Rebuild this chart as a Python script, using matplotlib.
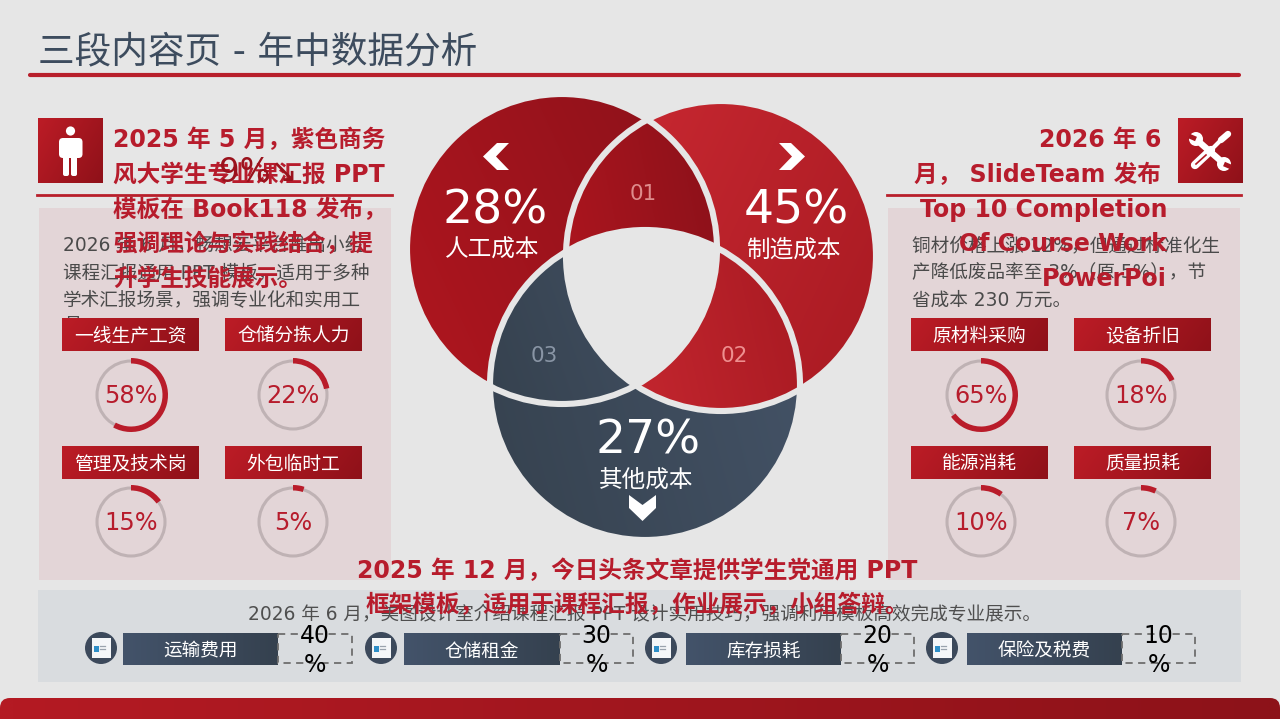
import numpy as np
import matplotlib
matplotlib.use("Agg")
import matplotlib.pyplot as plt
from matplotlib.colors import to_rgb
from matplotlib.patches import Circle, Rectangle, Wedge, Polygon, FancyBboxPatch

plt.rcParams['font.family'] = ['DejaVu Sans', 'Noto Sans CJK SC']

# Slide text (full-width punctuation written as escapes)
title = "三段内容页 - 年中数据分析"
left_heading = ["2025 年 5 月\uff0c紫色商务", "风大学生专业课汇报 PPT", "模板在 Book118 发布\uff0c", "强调理论与实践结合\uff0c提", "升学生技能展示\u3002"]
right_heading = ["2026 年 6", "月\uff0c SlideTeam 发布", "Top 10 Completion", "Of Course Work", "PowerPoi"]
bottom_heading = ["2025 年 12 月\uff0c今日头条文章提供学生党通用 PPT", "框架模板\uff0c适用于课程汇报\uff0c作业展示\uff0c小组答辩\u3002"]
left_body = ["2026 年 6 月\uff0c畅想云平台推出小组", "课程汇报通用 PPT 模板\uff0c适用于多种", "学术汇报场景\uff0c强调专业化和实用工", "具\u3002"]
right_body = ["铜材价格上涨 12%\uff0c但通过标准化生", "产降低废品率至 3%\uff08原 5%\uff09\uff0c节", "省成本 230 万元\u3002"]
bottom_body = "2026 年 6 月\uff0c美图设计室介绍课程汇报 PPT 设计实用技巧\uff0c强调利用模板高效完成专业展示\u3002"
left_delta = "9%↘"

# Venn values
venn_names = ["人工成本", "制造成本", "其他成本"]
venn_values = [28, 45, 27]
lens_names = ["01", "02", "03"]

# Gauges
left_gauge_names = ["一线生产工资", "仓储分拣人力", "管理及技术岗", "外包临时工"]
left_gauge_values = [58, 22, 15, 5]
right_gauge_names = ["原材料采购", "设备折旧", "能源消耗", "质量损耗"]
right_gauge_values = [65, 18, 10, 7]

# Bottom row
other_names = ["运输费用", "仓储租金", "库存损耗", "保险及税费"]
other_values = [40, 30, 20, 10]

BG = "#E6E6E6"
RED = "#B71C2C"
DARK_RED = "#8B111A"
MID_RED = "#B0161F"
LIGHT_RED = "#CC2A33"
NAVY_L = "#36424F"
NAVY_R = "#445367"

fig = plt.figure(figsize=(12.8, 7.19), dpi=100, facecolor=BG)
ax = fig.add_axes([0, 0, 1, 1])
ax.set_xlim(0, 1280)
ax.set_ylim(719, 0)
ax.axis("off")


# Draws a linear gradient over a box and clips it to patch (or the box itself)
def gradient(x0, y0, x1, y1, c0, c1, angle=0, clip=None, zorder=1):
    yy, xx = np.mgrid[0:1:48j, 0:1:48j]
    a = np.radians(angle)
    t = xx * np.cos(a) + yy * np.sin(a)
    t = (t - t.min()) / (t.max() - t.min())
    c0, c1 = np.array(to_rgb(c0)), np.array(to_rgb(c1))
    img = c0[None, None, :] + t[:, :, None] * (c1 - c0)[None, None, :]
    im = ax.imshow(img, extent=(x0, x1, y1, y0), aspect="auto", interpolation="bilinear", zorder=zorder)
    if clip is None:
        clip = Rectangle((x0, y0), x1 - x0, y1 - y0, transform=ax.transData)
    else:
        clip.set_transform(ax.transData)
    im.set_clip_path(clip)
    return im


# Polygon of the part common to several circles (always convex)
def common_region(circles):
    pts = []
    th = np.linspace(0, 2 * np.pi, 1440, endpoint=False)
    for i, (cx, cy, r) in enumerate(circles):
        p = np.column_stack([cx + r * np.cos(th), cy + r * np.sin(th)])
        for j, (ox, oy, orad) in enumerate(circles):
            if i != j:
                p = p[np.hypot(p[:, 0] - ox, p[:, 1] - oy) <= orad]
        pts.append(p)
    pts = np.vstack(pts)
    mid = pts.mean(axis=0)
    order = np.argsort(np.arctan2(pts[:, 1] - mid[1], pts[:, 0] - mid[0]))
    return pts[order]


# Title bar
ax.text(38, 52, title, fontsize=26.4, color="#3D4C5E", ha="left", va="center", zorder=5)
ax.plot([30, 1239], [75, 75], color="#B81F2B", lw=3, solid_capstyle="round", zorder=2)

# Panels
for x0, x1 in [(39, 391), (888, 1240)]:
    ax.add_patch(Rectangle((x0, 208), x1 - x0, 372, fc="#E3D5D7", ec="none", zorder=1))
ax.add_patch(Rectangle((38, 590), 1203, 92, fc="#D9DCDF", ec="none", zorder=1))

# Icon squares and lines under them
gradient(38, 118, 103, 183, "#BC1C26", "#8F1119", angle=30, zorder=2)
gradient(1178, 118, 1243, 183, "#BC1C26", "#8F1119", angle=30, zorder=2)
ax.plot([37, 392], [195, 195], color="#B81F2B", lw=2, zorder=2)
ax.plot([887, 1241], [195, 195], color="#B81F2B", lw=2, zorder=2)

# Person icon
ax.add_patch(Circle((70.5, 131), 4.6, fc="white", ec="none", zorder=3))
ax.add_patch(FancyBboxPatch((62, 141), 17.5, 14, boxstyle="round,pad=3,rounding_size=4", fc="white", ec="none", zorder=3))
ax.add_patch(FancyBboxPatch((63.5, 156), 5, 19.5, boxstyle="round,pad=0.5,rounding_size=2", fc="white", ec="none", zorder=3))
ax.add_patch(FancyBboxPatch((71.5, 156), 5, 19.5, boxstyle="round,pad=0.5,rounding_size=2", fc="white", ec="none", zorder=3))

# Tools icon
ax.plot([1198, 1222], [141, 162], color="white", lw=4.6, solid_capstyle="round", zorder=3)
for hx, hy, nx, ny in [(1196, 139, 1189, 136), (1224, 164, 1231, 167)]:
    ax.add_patch(Circle((hx, hy), 7, fc="white", ec="none", zorder=3))
    ax.plot([hx, nx], [hy, ny], color="#A7161F", lw=3.4, solid_capstyle="butt", zorder=3.1)
ax.plot([1195, 1211], [165, 150], color="white", lw=6, solid_capstyle="round", zorder=3.2)
ax.plot([1196, 1206], [164, 155], color="#B01A22", lw=1.2, zorder=3.3)
ax.plot([1211, 1222], [150, 139], color="white", lw=3, zorder=3.2)
ax.plot([1221, 1228], [140, 134], color="white", lw=4.6, solid_capstyle="round", zorder=3.2)

# Venn circles
A = (562, 249, 155)
B = (721, 256, 155)
C = (645, 385, 155)


def box(c):
    return c[0] - c[2], c[1] - c[2], c[0] + c[2], c[1] + c[2]


gradient(*box(A), MID_RED, DARK_RED, angle=-25, clip=Circle(A[:2], A[2]), zorder=2)
gradient(*box(B), LIGHT_RED, "#A81A22", angle=25, clip=Circle(B[:2], B[2]), zorder=2.1)
gradient(*box(C), NAVY_L, NAVY_R, angle=-15, clip=Circle(C[:2], C[2]), zorder=2.2)

lens_ab = common_region([A, B])
lens_bc = common_region([B, C])
lens_ac = common_region([A, C])
gradient(lens_ab[:, 0].min(), lens_ab[:, 1].min(), lens_ab[:, 0].max(), lens_ab[:, 1].max(), MID_RED, DARK_RED, angle=-20, clip=Polygon(lens_ab), zorder=2.3)
gradient(lens_bc[:, 0].min(), lens_bc[:, 1].min(), lens_bc[:, 0].max(), lens_bc[:, 1].max(), LIGHT_RED, "#A81A22", angle=-10, clip=Polygon(lens_bc), zorder=2.3)
gradient(lens_ac[:, 0].min(), lens_ac[:, 1].min(), lens_ac[:, 0].max(), lens_ac[:, 1].max(), NAVY_L, NAVY_R, angle=-15, clip=Polygon(lens_ac), zorder=2.3)
ax.add_patch(Polygon(common_region([A, B, C]), fc=BG, ec="none", zorder=2.4))
for c in (A, B, C):
    ax.add_patch(Circle(c[:2], c[2], fc="none", ec=BG, lw=4.4, zorder=2.5))

venn_pos = [(495, 211, 250, 492), (796, 211, 250, 793), (648, 441, 480, 646)]
for name, value, (x, y_num, y_name, x_name) in zip(venn_names, venn_values, venn_pos):
    ax.text(x, y_num, f"{value}%", fontsize=34, color="white", ha="center", va="center", zorder=4)
    ax.text(x_name, y_name, name, fontsize=17, color="white", ha="center", va="center", zorder=4)

lens_pos = [(643, 194, "#DE8C8C"), (734, 356, "#EE8F8F"), (544, 356, "#8995A5")]
for name, (x, y, col) in zip(lens_names, lens_pos):
    ax.text(x, y, name, fontsize=15.5, color=col, ha="center", va="center", zorder=4)

# Chevrons
ax.add_patch(Polygon([(509, 143), (497, 143), (483, 156.5), (497, 170), (509, 170), (496, 156.5)], fc="white", ec="none", zorder=4))
ax.add_patch(Polygon([(779, 143), (791, 143), (805, 156.5), (791, 170), (779, 170), (792, 156.5)], fc="white", ec="none", zorder=4))
ax.add_patch(Polygon([(629, 495), (642.5, 505), (656, 495), (656, 508), (642.5, 521), (629, 508)], fc="white", ec="none", zorder=4))


# Small gauges: label box, grey ring and red arc starting at the top
def draw_gauge(name, value, x0, y0, cx, cy):
    gradient(x0, y0, x0 + 137, y0 + 33, "#BC1C26", "#8F1119", angle=10, zorder=3)
    ax.text(x0 + 68.5, y0 + 18, name, fontsize=13.5, color="white", ha="center", va="center", zorder=4)
    ax.add_patch(Circle((cx, cy), 34, fc="none", ec="#BFB2B4", lw=2.2, zorder=3))
    ax.add_patch(Wedge((cx, cy), 37, -90, -90 + 3.6 * value, width=5.5, fc="#B91C2A", ec="none", zorder=3.1))
    ax.text(cx, cy + 1, f"{value}%", fontsize=17.3, color=RED, ha="center", va="center", zorder=4)


boxes_x = {"l": [62, 225], "r": [911, 1074]}
rings_x = {"l": [131, 293], "r": [981, 1141]}
for side, names, values in [("l", left_gauge_names, left_gauge_values), ("r", right_gauge_names, right_gauge_values)]:
    for i, (name, value) in enumerate(zip(names, values)):
        col, row = i % 2, i // 2
        draw_gauge(name, value, boxes_x[side][col], [318, 446][row], rings_x[side][col], [395, 522][row])

# Body text (left panel's last line sits behind the gauge label)
for i, line in enumerate(left_body):
    ax.text(63, 246 + 27 * i - (2 if i == 3 else 0), line, fontsize=13.4, color="#4A4A4A", ha="left", va="center", zorder=2)
for i, line in enumerate(right_body):
    ax.text(912, 246 + 27 * i, line, fontsize=13.4, color="#4A4A4A", ha="left", va="center", zorder=2)
ax.text(645, 615, bottom_body, fontsize=13.4, color="#4F4F4F", ha="center", va="center", zorder=2)

# Bottom row
circle_x = [101, 381, 661, 942]
rect_x = [(123, 278), (404, 560), (686, 841), (967, 1122)]
dash_end = [352, 633, 914, 1195]
for name, value, cx, (x0, x1), xd in zip(other_names, other_values, circle_x, rect_x, dash_end):
    ax.add_patch(Circle((cx, 648), 16, fc="#3C495B", ec="none", zorder=3))
    ax.add_patch(Rectangle((cx - 9.5, 638), 19, 20, fc="#F4F6F8", ec="none", zorder=3.1))
    ax.add_patch(Rectangle((cx - 7, 646), 5, 6, fc="#2F8FC8", ec="none", zorder=3.2))
    ax.plot([cx - 1, cx + 4], [646, 646], color="#9AA3AD", lw=0.9, zorder=3.2)
    ax.plot([cx - 1, cx + 4], [649, 649], color="#9AA3AD", lw=0.9, zorder=3.2)
    gradient(x0, 633, x1, 665, "#43536A", "#35414F", zorder=3)
    ax.text((x0 + x1) / 2, 651, name, fontsize=13.4, color="white", ha="center", va="center", zorder=4)
    ax.add_patch(Rectangle((x1, 634), xd - x1, 29, fc="none", ec="#6E6E6E", lw=1.3, ls=(0, (4, 3)), zorder=3))
    ax.text((x1 + xd) / 2, 636, f"{value}", fontsize=17, color="black", ha="center", va="center", zorder=5)
    ax.text((x1 + xd) / 2, 665, "%", fontsize=17, color="black", ha="center", va="center", zorder=5)

# Footer band
footer = FancyBboxPatch((0, 698), 1280, 40, boxstyle="round,pad=0,rounding_size=10")
gradient(0, 698, 1280, 719, "#B41A23", "#8D1219", clip=footer, zorder=3)

# Overflowing headings sit on top of everything
for i, line in enumerate(left_heading):
    ax.text(113, 140 + 34.8 * i, line, fontsize=17, fontweight="bold", color=RED, ha="left", va="center", zorder=10)
for i, line in enumerate(right_heading):
    xr = 1161 if i < 2 else 1167
    ax.text(xr, 140 + 34.8 * i, line, fontsize=17, fontweight="bold", color=RED, ha="right", va="center", zorder=10)
for i, line in enumerate(bottom_heading):
    ax.text(637, 571 + 34 * i, line, fontsize=17, fontweight="bold", color=RED, ha="center", va="center", zorder=10)
ax.text(258, 172, left_delta, fontsize=23.5, color="#9A121C", ha="center", va="center", zorder=11)

ax.set_xlim(0, 1280)
ax.set_ylim(719, 0)
fig.savefig("out.png", dpi=100, facecolor=BG)
